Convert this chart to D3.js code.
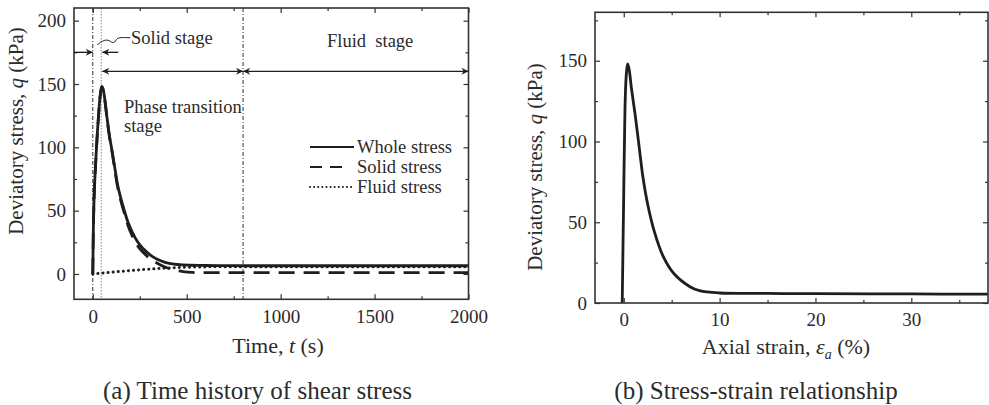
<!DOCTYPE html>
<html lang="en">
<head>
<meta charset="UTF-8">
<title>Stress history</title>
<script src="https://d3js.org/d3.v7.min.js"></script>
<style>
  body { margin: 0; background: #fff; }
  svg text { font-family: "Liberation Serif", "Times New Roman", serif; fill: #2b2b2b; }
</style>
</head>
<body>
<div id="chart"></div>
<script>
// ---- (a) time history data ----
const timeWhole  = [0, 3, 7, 12, 18, 25, 32, 38, 43, 48, 55, 65, 77, 90, 104, 117, 130, 147, 166, 187, 210, 240, 272, 305, 343, 385, 432, 480, 521, 600, 700, 800, 1000, 1500, 2000];
const qWhole     = [0, 35, 60, 78, 95, 113, 128, 139, 145, 148, 146, 137, 122, 108, 96, 84, 72, 61, 51, 41, 33, 25, 19.5, 15, 11.6, 9.2, 7.7, 7.1, 6.9, 6.7, 6.6, 6.5, 6.5, 6.5, 6.5];
const timeSolid  = [0, 3, 7, 12, 18, 25, 32, 38, 43, 48, 55, 65, 77, 90, 104, 117, 130, 147, 166, 187, 210, 240, 272, 305, 343, 385, 432, 480, 530, 600, 800, 1000, 1500, 2000];
const qSolid     = [0, 35, 60, 78, 95, 112.7, 127.6, 138.5, 144.4, 147.4, 145.3, 136, 121, 107, 95, 82.5, 70.5, 59, 49, 38.5, 30, 22, 16.5, 12, 8.5, 5.5, 3.2, 1.8, 1.2, 1.0, 1.0, 1.0, 1.0, 1.0];
const timeFluid  = [0, 100, 200, 300, 400, 500, 600, 700, 800, 2000];
const qFluid     = [0, 1.4, 2.7, 3.8, 4.7, 5.3, 5.6, 5.7, 5.7, 5.7];
const stageLines = [0, 45, 800];

// ---- (b) stress-strain data ----
const strain  = [-0.16, -0.02, 0.13, 0.26, 0.4, 0.55, 0.8, 1.2, 1.6, 2.0, 2.5, 3.2, 4.1, 5.2, 6.9, 7.9, 10, 15, 20, 30, 38];
const qStrain = [0, 60, 121, 141, 148, 145, 133, 116, 97, 78, 61, 44, 29, 18.4, 10.1, 7.6, 6.2, 5.9, 5.8, 5.6, 5.5];

// tick values
const aTimeMajor = [0, 500, 1000, 1500, 2000];
const aTimeMinor = [250, 750, 1250, 1750];
const aQMajor = [0, 50, 100, 150, 200];
const aQMinor = [25, 75, 125, 175];
const bStrainMajor = [0, 10, 20, 30];
const bStrainMinor = [5, 15, 25, 35];
const bQMajor = [0, 50, 100, 150];
const bQMinor = [25, 75, 125, 175];

const zip = (xs, ys) => xs.map((x, i) => ({ x: x, y: ys[i] }));

const svg = d3.select("#chart").append("svg")
    .attr("width", 989)
    .attr("height", 405);

const ink = "#1e1e1e";
const frameCol = "#333";

// arrow marker
const defs = svg.append("defs");
defs.append("marker")
    .attr("id", "arr")
    .attr("viewBox", "0 0 10 10")
    .attr("refX", 10).attr("refY", 5)
    .attr("markerWidth", 9).attr("markerHeight", 7)
    .attr("markerUnits", "userSpaceOnUse")
    .attr("orient", "auto-start-reverse")
    .append("path")
    .attr("d", "M0,0 L10,5 L0,10 L3,5 z")
    .attr("fill", ink);

function frameAxes(g, x, y, xMaj, xMin, yMaj, yMin, x0, x1, y0, y1) {
    const strip = sel => { sel.select(".domain").remove(); sel.selectAll("line").attr("stroke", frameCol).attr("stroke-width", 1.2); };
    g.append("g").attr("transform", `translate(0,${y1})`)
        .call(d3.axisBottom(x).tickValues(xMaj).tickSize(-5).tickPadding(10).tickFormat(d3.format("d")))
        .call(strip).selectAll("text").attr("font-size", 19).attr("fill", "#2b2b2b");
    g.append("g").attr("transform", `translate(0,${y1})`)
        .call(d3.axisBottom(x).tickValues(xMin).tickSize(-3).tickFormat("")).call(strip);
    g.append("g").attr("transform", `translate(0,${y0})`)
        .call(d3.axisTop(x).tickValues(xMaj).tickSize(-5).tickFormat("")).call(strip);
    g.append("g").attr("transform", `translate(0,${y0})`)
        .call(d3.axisTop(x).tickValues(xMin).tickSize(-3).tickFormat("")).call(strip);
    g.append("g").attr("transform", `translate(${x0},0)`)
        .call(d3.axisLeft(y).tickValues(yMaj).tickSize(-5).tickPadding(8).tickFormat(d3.format("d")))
        .call(strip).selectAll("text").attr("font-size", 19).attr("fill", "#2b2b2b");
    g.append("g").attr("transform", `translate(${x0},0)`)
        .call(d3.axisLeft(y).tickValues(yMin).tickSize(-3).tickFormat("")).call(strip);
    g.append("g").attr("transform", `translate(${x1},0)`)
        .call(d3.axisRight(y).tickValues(yMaj).tickSize(-5).tickFormat("")).call(strip);
    g.append("g").attr("transform", `translate(${x1},0)`)
        .call(d3.axisRight(y).tickValues(yMin).tickSize(-3).tickFormat("")).call(strip);
    g.append("rect")
        .attr("x", x0).attr("y", y0)
        .attr("width", x1 - x0).attr("height", y1 - y0)
        .attr("fill", "none").attr("stroke", frameCol).attr("stroke-width", 1.6);
}

// ================= (a) =================
const ax0 = 74, ax1 = 468.5, ay0 = 8, ay1 = 299.3;
const xA = d3.scaleLinear().domain([-100, 2000]).range([ax0, ax1]);
const yA = d3.scaleLinear().domain([-20, 210]).range([ay1, ay0]);
const gA = svg.append("g");

// stage boundaries
gA.selectAll(".stage").data(stageLines).enter().append("line")
    .attr("x1", d => xA(d)).attr("x2", d => xA(d))
    .attr("y1", ay0).attr("y2", ay1)
    .attr("stroke", (d, i) => i === 1 ? "#888" : "#333")
    .attr("stroke-width", 1)
    .attr("stroke-dasharray", (d, i) => i === 1 ? "1.5,1.5" : "4,2,1,2");

const lineA = d3.line().x(d => xA(d.x)).y(d => yA(d.y)).curve(d3.curveMonotoneX);

gA.append("path").datum(zip(timeFluid, qFluid))
    .attr("d", lineA).attr("fill", "none").attr("stroke", ink)
    .attr("stroke-width", 3).attr("stroke-linecap", "round").attr("stroke-dasharray", "0.1,5");
gA.append("path").datum(zip(timeSolid, qSolid))
    .attr("d", lineA).attr("fill", "none").attr("stroke", ink)
    .attr("stroke-width", 2.8).attr("stroke-dasharray", "16,9");
gA.append("path").datum(zip(timeWhole, qWhole))
    .attr("d", lineA).attr("fill", "none").attr("stroke", ink)
    .attr("stroke-width", 2.8);

frameAxes(gA, xA, yA, aTimeMajor, aTimeMinor, aQMajor, aQMinor, ax0, ax1, ay0, ay1);

// stage arrows
function arrow(g, x1, y1, x2, y2, both) {
    const l = g.append("line")
        .attr("x1", x1).attr("y1", y1).attr("x2", x2).attr("y2", y2)
        .attr("stroke", ink).attr("stroke-width", 1.3)
        .attr("marker-end", "url(#arr)");
    if (both) l.attr("marker-start", "url(#arr)");
}
arrow(gA, xA(-100), yA(175), xA(0), yA(175), false);
arrow(gA, xA(45) + 17, yA(175), xA(45) + 1, yA(175), false);
arrow(gA, xA(45) + 1, yA(160), xA(800), yA(160), true);
arrow(gA, xA(800), yA(160), xA(2000), yA(160), true);

// squiggle leader to "Solid stage"
{
    const sx = xA(45) - 4, sy = yA(181);
    gA.append("path")
        .attr("d", `M${sx},${sy} C${sx + 4},${sy - 3} ${sx + 8},${sy - 6} ${sx + 12},${sy - 4}` +
                   ` C${sx + 15},${sy - 2} ${sx + 17},${sy - 1} ${sx + 19},${sy - 5}` +
                   ` C${sx + 21},${sy - 8} ${sx + 27},${sy - 7} ${sx + 33},${sy - 7}`)
        .attr("fill", "none").attr("stroke", ink).attr("stroke-width", 1);
}

gA.append("text").attr("x", 131).attr("y", 44).attr("font-size", 18.5).text("Solid stage");
gA.append("text").attr("x", 327).attr("y", 47).attr("font-size", 18.5)
    .style("white-space", "pre").text("Fluid  stage");
gA.append("text").attr("x", 124).attr("y", 113).attr("font-size", 18.5).text("Phase transition");
gA.append("text").attr("x", 124).attr("y", 132).attr("font-size", 18.5).text("stage");

// legend
const legItems = [
    { label: "Whole stress", dash: null, cap: "butt" },
    { label: "Solid stress", dash: "12,8", cap: "butt" },
    { label: "Fluid stress", dash: "0.1,4", cap: "round" }
];
const leg = gA.append("g").attr("transform", "translate(310,147)");
legItems.forEach((d, i) => {
    const row = leg.append("g").attr("transform", `translate(0,${i * 20})`);
    row.append("line").attr("x1", 0).attr("x2", d.dash === "12,8" ? 32 : 44).attr("y1", 0).attr("y2", 0)
        .attr("stroke", ink).attr("stroke-width", d.cap === "round" ? 2 : 2.2)
        .attr("stroke-linecap", d.cap)
        .attr("stroke-dasharray", d.dash);
    row.append("text").attr("x", 47).attr("y", 6).attr("font-size", 18.5).text(d.label);
});

// axis labels
gA.append("text")
    .attr("transform", `translate(23,131) rotate(-90)`)
    .attr("text-anchor", "middle").attr("font-size", 21)
    .call(t => {
        t.append("tspan").text("Deviatory stress, ");
        t.append("tspan").attr("font-style", "italic").text("q");
        t.append("tspan").text(" (kPa)");
    });
gA.append("text")
    .attr("x", 278).attr("y", 353)
    .attr("text-anchor", "middle").attr("font-size", 22)
    .call(t => {
        t.append("tspan").text("Time, ");
        t.append("tspan").attr("font-style", "italic").text("t");
        t.append("tspan").text(" (s)");
    });
gA.append("text").attr("x", 257.5).attr("y", 399)
    .attr("text-anchor", "middle").attr("font-size", 25)
    .text("(a) Time history of shear stress");

// ================= (b) =================
const bx0 = 595, bx1 = 988, by0 = 12.3, by1 = 303;
const xB = d3.scaleLinear().domain([-3, 38]).range([bx0, bx1]);
const yB = d3.scaleLinear().domain([0, 180]).range([by1, by0]);
const gB = svg.append("g");

gB.append("path").datum(zip(strain, qStrain))
    .attr("d", d3.line().x(d => xB(d.x)).y(d => yB(d.y)).curve(d3.curveCatmullRom.alpha(0.5)))
    .attr("fill", "none").attr("stroke", ink).attr("stroke-width", 2.8);

frameAxes(gB, xB, yB, bStrainMajor, bStrainMinor, bQMajor, bQMinor, bx0, bx1, by0, by1);

gB.append("text")
    .attr("transform", `translate(542,167) rotate(-90)`)
    .attr("text-anchor", "middle").attr("font-size", 21)
    .call(t => {
        t.append("tspan").text("Deviatory stress, ");
        t.append("tspan").attr("font-style", "italic").text("q");
        t.append("tspan").text(" (kPa)");
    });
gB.append("text")
    .attr("x", 786).attr("y", 354)
    .attr("text-anchor", "middle").attr("font-size", 22)
    .call(t => {
        t.append("tspan").text("Axial strain, ");
        t.append("tspan").attr("font-style", "italic").text("ε");
        t.append("tspan").attr("font-style", "italic").attr("font-size", 14).attr("dy", 5).text("a");
        t.append("tspan").attr("dy", -5).text(" (%)");
    });
gB.append("text").attr("x", 756).attr("y", 399)
    .attr("text-anchor", "middle").attr("font-size", 25)
    .text("(b) Stress-strain relationship");
</script>
</body>
</html>
